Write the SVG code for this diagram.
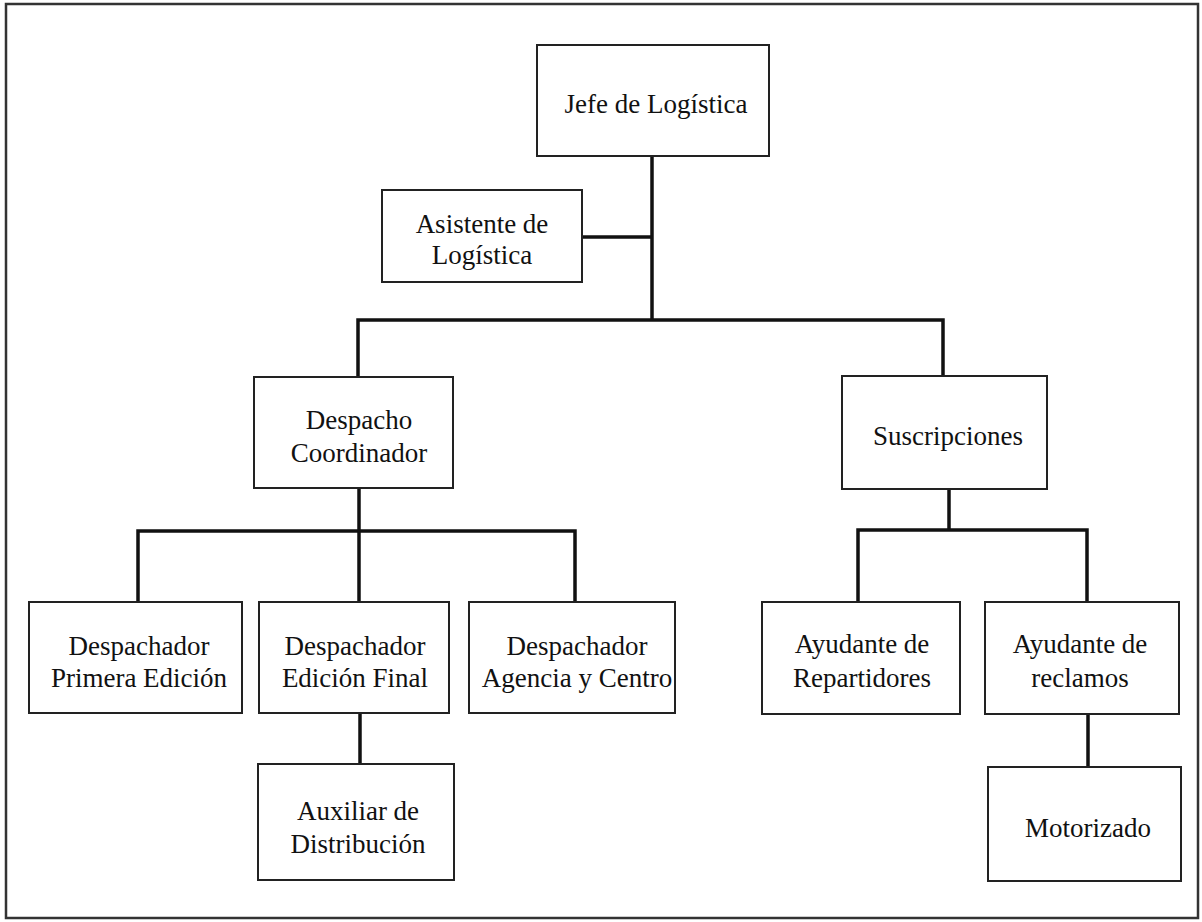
<svg xmlns="http://www.w3.org/2000/svg" width="1202" height="922" viewBox="0 0 1202 922">
<style>
.frame{fill:none;stroke:#333;stroke-width:2.5}
.box{fill:#fff;stroke:#222;stroke-width:2}
.conn{fill:none;stroke:#111;stroke-width:3.5;stroke-linejoin:miter}
text{font-family:"Liberation Serif","Times New Roman",serif;font-size:27px;fill:#111;text-anchor:middle}
</style>
<rect width="1202" height="922" fill="#fff"/>
<rect class="frame" x="6" y="4" width="1192" height="914"/>
<g id="connectors">
<path class="conn" d="M652,156 V320"/>
<path class="conn" d="M582,237 H652"/>
<path class="conn" d="M358,377 V320 H943 V376"/>
<path class="conn" d="M359,488 V531"/>
<path class="conn" d="M138,602 V531 H575 V602"/>
<path class="conn" d="M359,531 V602"/>
<path class="conn" d="M360,713 V764"/>
<path class="conn" d="M949,489 V530"/>
<path class="conn" d="M858,602 V530 H1087 V602"/>
<path class="conn" d="M1088,714 V767"/>
</g>
<g id="jefe"><rect class="box" x="537" y="45" width="232" height="111"/><text x="656" y="113">Jefe de Logística</text></g>
<g id="asistente"><rect class="box" x="382" y="190" width="200" height="92"/><text x="482" y="233">Asistente de</text><text x="482" y="264">Logística</text></g>
<g id="despacho"><rect class="box" x="254" y="377" width="199" height="111"/><text x="359" y="429">Despacho</text><text x="359" y="462">Coordinador</text></g>
<g id="suscripciones"><rect class="box" x="842" y="376" width="205" height="113"/><text x="948" y="445">Suscripciones</text></g>
<g id="primera"><rect class="box" x="29" y="602" width="213" height="111"/><text x="139" y="655">Despachador</text><text x="139" y="687">Primera Edición</text></g>
<g id="final"><rect class="box" x="259" y="602" width="190" height="111"/><text x="355" y="655">Despachador</text><text x="355" y="687">Edición Final</text></g>
<g id="agencia"><rect class="box" x="469" y="602" width="206" height="111"/><text x="577" y="655">Despachador</text><text x="577" y="687">Agencia y Centro</text></g>
<g id="repartidores"><rect class="box" x="762" y="602" width="198" height="112"/><text x="862" y="653">Ayudante de</text><text x="862" y="687">Repartidores</text></g>
<g id="reclamos"><rect class="box" x="985" y="602" width="194" height="112"/><text x="1080" y="653">Ayudante de</text><text x="1080" y="687">reclamos</text></g>
<g id="auxiliar"><rect class="box" x="258" y="764" width="196" height="116"/><text x="358" y="820">Auxiliar de</text><text x="358" y="853">Distribución</text></g>
<g id="motorizado"><rect class="box" x="988" y="767" width="193" height="114"/><text x="1088" y="837">Motorizado</text></g>
</svg>
